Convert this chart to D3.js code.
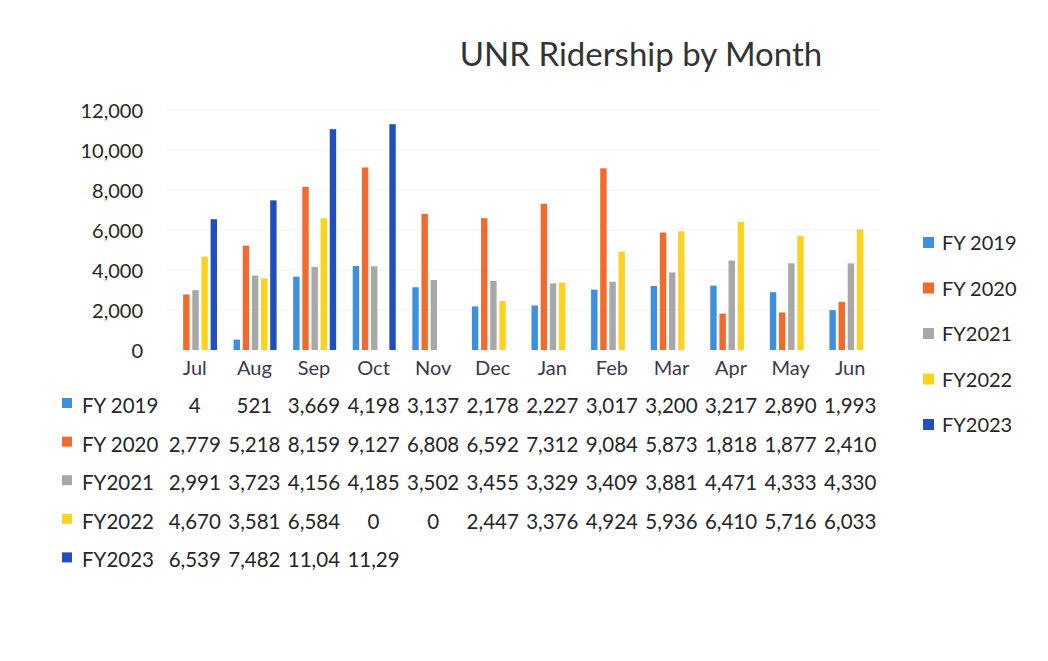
<!DOCTYPE html>
<meta charset="utf-8">
<style>
body { margin: 0; background: #fff; }
text { font-family: Lato, "Open Sans", sans-serif; fill: #262626; }
.title { font-size: 33px; fill: #333; }
.tick text { font-size: 20px; }
.month { font-size: 20px; fill: #3a3a4a; }
.cell { font-size: 20.5px; }
.legend-label { font-size: 20px; }
</style>
<svg width="1048" height="661"></svg>
<script src="https://d3js.org/d3.v7.min.js"></script>
<script>

var months = ["Jul", "Aug", "Sep", "Oct", "Nov", "Dec", "Jan", "Feb", "Mar", "Apr", "May", "Jun"];
var seriesNames = ["FY 2019", "FY 2020", "FY2021", "FY2022", "FY2023"];
var colors = ["#3f8fe0", "#f26a2c", "#a8a8a8", "#ffd21e", "#1f4fbf"];

var fy2019 = [4, 521, 3669, 4198, 3137, 2178, 2227, 3017, 3200, 3217, 2890, 1993];
var fy2020 = [2779, 5218, 8159, 9127, 6808, 6592, 7312, 9084, 5873, 1818, 1877, 2410];
var fy2021 = [2991, 3723, 4156, 4185, 3502, 3455, 3329, 3409, 3881, 4471, 4333, 4330];
var fy2022 = [4670, 3581, 6584, 0, 0, 2447, 3376, 4924, 5936, 6410, 5716, 6033];
var fy2023 = [6539, 7482, 11040, 11290, null, null, null, null, null, null, null, null];

var yTicks = [0, 2000, 4000, 6000, 8000, 10000, 12000];

var series = [fy2019, fy2020, fy2021, fy2022, fy2023];

var svg = d3.select("svg");

var x = d3.scaleBand().domain(months).range([165, 880]);
var xs = d3.scaleBand().domain(d3.range(5)).range([9, 52]).paddingInner(0.3);
var y = d3.scaleLinear().domain([0, 12000]).range([350, 110]);

svg.append("text")
    .attr("class", "title")
    .attr("x", 641)
    .attr("y", 66)
    .attr("text-anchor", "middle")
    .text("UNR Ridership by Month");

// faint gridlines
svg.append("g")
    .selectAll("line")
    .data(yTicks.slice(1))
    .enter().append("line")
    .attr("x1", 165).attr("x2", 880)
    .attr("y1", function(d) { return y(d); })
    .attr("y2", function(d) { return y(d); })
    .attr("stroke", "#f4f4f4");

var yAxis = svg.append("g")
    .attr("transform", "translate(150,0)")
    .call(d3.axisLeft(y).tickValues(yTicks).tickFormat(d3.format(",")).tickSize(0).tickPadding(7));
yAxis.select(".domain").remove();
yAxis.selectAll("text").attr("dy", "0.35em");

// bars
var groups = svg.append("g")
    .selectAll("g")
    .data(series)
    .enter().append("g")
    .attr("fill", function(d, i) { return colors[i]; });

groups.each(function(vals, si) {
  d3.select(this).selectAll("rect")
    .data(vals.map(function(v, mi) { return {m: months[mi], v: v}; }).filter(function(d) { return d.v; }))
    .enter().append("rect")
    .attr("x", function(d) { return x(d.m) + xs(si); })
    .attr("width", xs.bandwidth())
    .attr("y", function(d) { return y(d.v); })
    .attr("height", function(d) { return y(0) - y(d.v); });
});

// month labels
svg.append("g")
    .selectAll("text")
    .data(months)
    .enter().append("text")
    .attr("class", "month")
    .attr("x", function(d) { return x(d) + x.bandwidth() / 2; })
    .attr("y", 375)
    .attr("text-anchor", "middle")
    .text(function(d) { return d; });

// data table
var rowY = d3.scaleBand().domain(d3.range(5)).range([388, 581]);
var fmt = d3.format(",");

var rows = svg.append("g")
    .selectAll("g")
    .data(series)
    .enter().append("g")
    .attr("transform", function(d, i) { return "translate(0," + (rowY(i) + 25) + ")"; });

rows.append("rect")
    .attr("x", 62).attr("y", -15)
    .attr("width", 10).attr("height", 10)
    .attr("fill", function(d, i) { return colors[i]; });

rows.append("text")
    .attr("class", "cell")
    .attr("x", 82)
    .text(function(d, i) { return seriesNames[i]; });

rows.selectAll(".val")
    .data(function(d) { return d.map(function(v, mi) { return {m: months[mi], v: v}; }).filter(function(c) { return c.v !== null; }); })
    .enter().append("text")
    .attr("class", "cell val")
    .attr("x", function(d) { return x(d.m) + x.bandwidth() / 2; })
    .attr("text-anchor", "middle")
    .text(function(d) { return fmt(d.v).slice(0, 5); });

// legend
var legend = svg.append("g")
    .selectAll("g")
    .data(seriesNames)
    .enter().append("g")
    .attr("transform", function(d, i) { return "translate(923," + (243 + i * 45.5) + ")"; });

legend.append("rect")
    .attr("x", 0).attr("y", -6)
    .attr("width", 11).attr("height", 11)
    .attr("fill", function(d, i) { return colors[i]; });

legend.append("text")
    .attr("class", "legend-label")
    .attr("x", 19)
    .attr("dy", "0.35em")
    .text(function(d) { return d; });

</script>
